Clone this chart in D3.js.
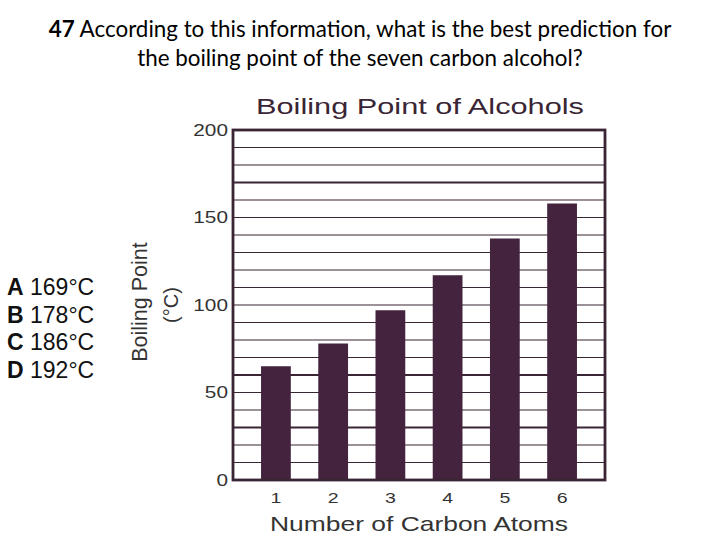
<!DOCTYPE html>
<html>
<head>
<meta charset="utf-8">
<script src="https://cdn.jsdelivr.net/npm/d3@7"></script>
<style>
  body { margin: 0; background: #fff; }
</style>
</head>
<body>
<svg class="svg-main" width="720" height="540"></svg>
<script>
const carbons = ["1", "2", "3", "4", "5", "6"];
const boilingPoints = [65, 78, 97, 117, 138, 158];
const yTicks = [0, 50, 100, 150, 200];
const gridValues = d3.range(10, 200, 10);
const heavyGrid = [30, 60, 170];
const choiceLetters = ["A", "B", "C", "D"];
const choiceTexts = ["169°C", "178°C", "186°C", "192°C"];

const svg = d3.select(".svg-main");
const ink = "#3a2535";
const barColor = "#43233d";
const arial = "'Liberation Sans', Arial, sans-serif";

const plotL = 233, plotR = 605, plotT = 130, plotB = 480;

const x = d3.scaleBand().domain(carbons).range([plotL, plotR])
  .paddingInner(0.48).paddingOuter(0.49);
const y = d3.scaleLinear().domain([0, 200]).range([plotB, plotT]);

// question text
const q = svg.append("text")
  .attr("x", 360).attr("y", 37)
  .attr("text-anchor", "middle")
  .style("font-family", "Lato, 'Open Sans', sans-serif")
  .style("font-size", "22.4px")
  .attr("fill", "#000");
q.append("tspan").style("font-weight", "bold").text("47");
q.append("tspan").text(" According to this information, what is the best prediction for");
svg.append("text")
  .attr("x", 360).attr("y", 66)
  .attr("text-anchor", "middle")
  .style("font-family", "Lato, 'Open Sans', sans-serif")
  .style("font-size", "22.4px")
  .text("the boiling point of the seven carbon alcohol?");

// answer choices
choiceLetters.forEach((l, i) => {
  const t = svg.append("text")
    .attr("x", 7).attr("y", 295 + i * 27.7)
    .style("font-family", arial)
    .style("font-size", "23px")
    .attr("fill", "#111");
  t.append("tspan").style("font-weight", "bold").text(l);
  t.append("tspan").text(" " + choiceTexts[i]);
});

// chart title
svg.append("text")
  .attr("x", 256).attr("y", 114)
  .attr("textLength", 328)
  .attr("lengthAdjust", "spacingAndGlyphs")
  .style("font-family", arial)
  .style("font-size", "22px")
  .attr("fill", ink)
  .text("Boiling Point of Alcohols");

// grid
svg.append("g")
  .selectAll("line")
  .data(gridValues)
  .enter().append("line")
    .attr("x1", plotL).attr("x2", plotR)
    .attr("y1", (d) => y(d)).attr("y2", (d) => y(d))
    .attr("stroke", ink)
    .attr("stroke-width", (d) => heavyGrid.includes(d) ? 2.2 : 1.2);

// bars
svg.append("g")
  .selectAll("rect")
  .data(boilingPoints)
  .enter().append("rect")
    .attr("x", (d, i) => x(carbons[i]))
    .attr("width", x.bandwidth())
    .attr("y", (d) => y(d))
    .attr("height", (d) => y(0) - y(d))
    .attr("fill", barColor);

// frame
svg.append("rect")
  .attr("x", plotL).attr("y", plotT)
  .attr("width", plotR - plotL).attr("height", plotB - plotT)
  .attr("fill", "none")
  .attr("stroke", ink)
  .attr("stroke-width", 2.8);

// axes
const yAxis = svg.append("g")
  .attr("transform", `translate(${plotL},0)`)
  .call(d3.axisLeft(y).tickValues(yTicks).tickSize(0).tickPadding(5));
yAxis.select(".domain").remove();
yAxis.selectAll("text")
  .style("font-family", arial)
  .style("font-size", "16px")
  .attr("fill", "#333")
  .attr("transform", "scale(1.3,1)")
  .attr("x", -5 / 1.3);

const xAxis = svg.append("g")
  .attr("transform", `translate(0,${plotB})`)
  .call(d3.axisBottom(x).tickSize(0));
xAxis.select(".domain").remove();
xAxis.selectAll(".tick text")
  .style("font-family", arial)
  .style("font-size", "14.5px")
  .attr("fill", "#333")
  .attr("y", 23).attr("dy", 0)
  .attr("transform", "scale(1.35,1)");

// axis titles
svg.append("text")
  .attr("x", 270).attr("y", 531)
  .attr("textLength", 298)
  .attr("lengthAdjust", "spacingAndGlyphs")
  .style("font-family", arial)
  .style("font-size", "21px")
  .attr("fill", "#333")
  .text("Number of Carbon Atoms");
svg.append("text")
  .attr("transform", "translate(147,302) rotate(-90)")
  .attr("text-anchor", "middle")
  .style("font-family", arial)
  .style("font-size", "21.5px")
  .attr("fill", "#333")
  .text("Boiling Point");
svg.append("text")
  .attr("transform", "translate(178,305) rotate(-90)")
  .attr("text-anchor", "middle")
  .style("font-family", arial)
  .style("font-size", "20px")
  .attr("fill", "#333")
  .text("(°C)");
</script>
</body>
</html>
